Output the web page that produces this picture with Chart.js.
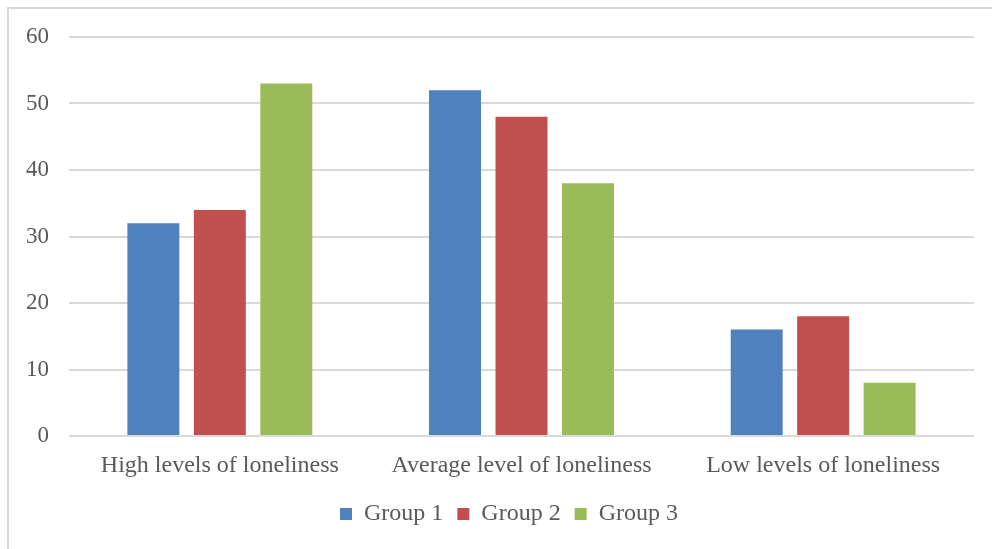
<!DOCTYPE html>
<html>
<head>
<meta charset="utf-8">
<script src="https://cdn.jsdelivr.net/npm/chart.js@4/dist/chart.umd.min.js"></script>
<style>
  html, body { margin: 0; padding: 0; background: #fff; }
  #wrap { position: relative; width: 992px; height: 549px; overflow: hidden; }
  #frame { position: absolute; left: 7px; top: 7px; width: 990px; height: 560px;
           border-left: 2px solid #D9D9D9; border-top: 2px solid #D9D9D9; box-sizing: border-box; }
  #c { position: absolute; left: 0; top: 0; }
</style>
</head>
<body>
<div id="wrap">
  <div id="frame"></div>
  <canvas id="c" width="992" height="549"></canvas>
</div>
<script>
// Categories and series
const categories = ['High levels of loneliness', 'Average level of loneliness', 'Low levels of loneliness'];
const group1 = [32, 52, 16];
const group2 = [34, 48, 18];
const group3 = [53, 38, 8];
const yTicks = [0, 10, 20, 30, 40, 50, 60];

const FONT = "'Liberation Serif', 'Times New Roman', serif";
const TEXT = '#595959';
const GRID = '#D9D9D9';

// Nudge the legend row to the right so it sits under the plot rather than the whole canvas
const legendShift = {
  id: 'legendShift',
  afterLayout(chart) {
    if (chart.legend) chart.legend.left += 44;
  }
};

new Chart(document.getElementById('c'), {
  type: 'bar',
  data: {
    labels: categories,
    datasets: [
      { label: 'Group 1', data: group1, backgroundColor: '#4F81BD' },
      { label: 'Group 2', data: group2, backgroundColor: '#C0504D' },
      { label: 'Group 3', data: group3, backgroundColor: '#9BBB59' }
    ]
  },
  plugins: [legendShift],
  options: {
    responsive: false,
    animation: false,
    categoryPercentage: 0.661,
    barPercentage: 0.782,
    layout: { padding: { left: 0, top: 37, right: 18, bottom: 13 } },
    plugins: {
      tooltip: { enabled: false },
      legend: {
        position: 'bottom',
        labels: {
          boxWidth: 12, boxHeight: 12, padding: 14,
          color: TEXT,
          font: { family: FONT, size: 24 }
        }
      }
    },
    scales: {
      x: {
        grid: { display: false, drawTicks: false },
        border: { display: false },
        ticks: { color: TEXT, font: { family: FONT, size: 24 }, padding: 15, maxRotation: 0 },
        afterFit: s => { s.height = 52; }
      },
      y: {
        min: 0, max: 60,
        afterBuildTicks: s => { s.ticks = yTicks.map(v => ({ value: v })); },
        grid: { color: GRID, lineWidth: 2, drawTicks: false },
        border: { display: false },
        ticks: { color: TEXT, font: { family: FONT, size: 23 }, padding: 20 },
        afterFit: s => { s.width = 69; }
      }
    }
  }
});
</script>
</body>
</html>
